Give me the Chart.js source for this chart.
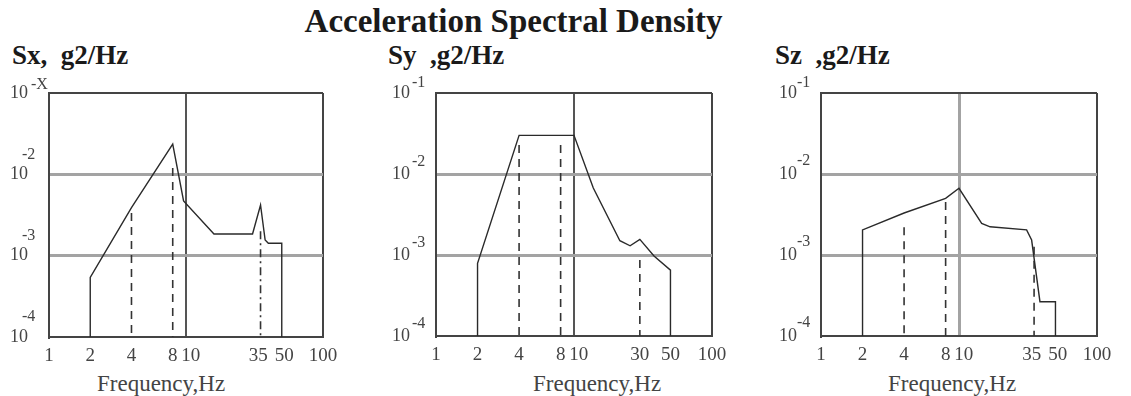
<!DOCTYPE html>
<html>
<head>
<meta charset="utf-8">
<script src="https://cdn.jsdelivr.net/npm/chart.js@4.4.0/dist/chart.umd.min.js"></script>
<style>
    body { margin: 0; background: #fff; width: 1131px; height: 396px; position: relative; overflow: hidden; font-family: 'Liberation Serif', serif; }
    .txt { position: absolute; white-space: pre; line-height: 1; font-weight: bold; color: #1a1a1a; }
    .xt { position: absolute; white-space: pre; line-height: 1; font-size: 23px; color: #444; top: 372px; }
    .box { position: absolute; }
</style>
</head>
<body>
<div class="txt" style="left:0; width:1027px; text-align:center; top:5px; font-size:33px;">Acceleration Spectral Density</div>
<div class="txt" style="left:12px; top:42px; font-size:27px;">Sx,  g2/Hz</div>
<div class="txt" style="left:388px; top:42px; font-size:27px;">Sy  ,g2/Hz</div>
<div class="txt" style="left:775px; top:42px; font-size:27px;">Sz  ,g2/Hz</div>
<div class="xt" style="left:97px;">Frequency,Hz</div>
<div class="xt" style="left:533px;">Frequency,Hz</div>
<div class="xt" style="left:888px;">Frequency,Hz</div>
<div class="box" id="boxX"><canvas id="chartX"></canvas></div>
<div class="box" id="boxY"><canvas id="chartY"></canvas></div>
<div class="box" id="boxZ"><canvas id="chartZ"></canvas></div>
<script>
// Sx panel
const sxFreq = [2, 2, 4, 8, 9.6, 16, 30.6, 35, 37.8, 39.9, 50, 50];
const sxPsd = [1e-4, 5.4e-4, 3.9e-3, 2.36e-2, 4.7e-3, 1.85e-3, 1.85e-3, 4.2e-3, 1.56e-3, 1.42e-3, 1.42e-3, 1e-4];
const sxMarkFreq = [4, 8, 35];
const sxMarkTop = [3.35e-3, 1.2e-2, 2.0e-3];
const sxMarkDash = ['dash', 'dash', 'dashdot'];
const sxXTicks = [1, 2, 4, 8, 10, 35, 50, 100];
const sxXLabels = ['1', '2', '4', '8', '  10', '35 ', ' 50', '100'];
const sxExp = ['-4', '-3', '-2', '-X'];

// Sy panel
const syFreq = [2, 2, 4, 10, 13.8, 21.5, 25.5, 30, 38, 50, 50];
const syPsd = [1e-4, 7.9e-4, 3.0e-2, 3.0e-2, 6.7e-3, 1.5e-3, 1.3e-3, 1.56e-3, 9.7e-4, 6.5e-4, 1e-4];
const syMarkFreq = [4, 8, 30];
const syMarkTop = [2.28e-2, 2.28e-2, 8.7e-4];
const syMarkDash = ['dash', 'dash', 'dash'];
const syXTicks = [1, 2, 4, 8, 10, 30, 50, 100];
const syXLabels = ['1', '2', '4', '8', '  10', '30', '50', '100'];
const syExp = ['-4', '-3', '-2', '-1'];

// Sz panel
const szFreq = [2, 2, 4, 8, 10, 14.6, 16.8, 30.9, 33.6, 38.6, 50, 50];
const szPsd = [1e-4, 2.04e-3, 3.3e-3, 5.0e-3, 6.67e-3, 2.46e-3, 2.23e-3, 2.04e-3, 1.53e-3, 2.65e-4, 2.65e-4, 1e-4];
const szMarkFreq = [4, 8, 35];
const szMarkTop = [2.2e-3, 4.5e-3, 1.26e-3];
const szMarkDash = ['dash', 'dash', 'dash'];
const szXTicks = [1, 2, 4, 8, 10, 35, 50, 100];
const szXLabels = ['1', '2', '4', '8', '  10', '35 ', ' 50', '100'];
const szExp = ['-4', '-3', '-2', '-1'];

const yTicks = [1e-4, 1e-3, 1e-2, 1e-1];

// y tick padding adds to the top padding in Chart.js, so keep PAD_T above it
const Y_W = 48, X_H = 40, PAD_T = 42, PAD_R = 30;

Chart.defaults.font.family = "'Liberation Serif', serif";
Chart.defaults.color = '#444';

// draws the raised exponent next to each "10" on the y axis
const exponentPlugin = {
    id: 'exponents',
    afterDraw(chart, args, opts) {
        const y = chart.scales.y;
        const c = chart.ctx;
        c.save();
        c.font = "16px 'Liberation Serif'";
        c.fillStyle = '#444';
        c.textAlign = 'left';
        c.textBaseline = 'middle';
        y.ticks.forEach((t, i) => {
            const py = y.getPixelForValue(t.value);
            const top = i === y.ticks.length - 1;
            const raise = top ? opts.topRaise : opts.raise;
            const gap = top ? opts.topGap : opts.gap;
            c.fillText(opts.labels[i], chart.chartArea.left - gap, py - raise);
        });
        c.restore();
    }
};

function makePanel(p) {
    const w = Y_W + (p.right - p.left) + PAD_R;
    const h = PAD_T + (p.bottom - p.top) + X_H;
    const box = document.getElementById(p.box);
    box.style.left = (p.left - Y_W) + 'px';
    box.style.top = (p.top - PAD_T) + 'px';
    const canvas = document.getElementById(p.canvas);
    canvas.width = w;
    canvas.height = h;

    const datasets = [{
        data: p.freq.map((f, i) => ({ x: f, y: p.psd[i] })),
        borderColor: '#2a2a2a',
        borderWidth: 1.4,
        pointRadius: 0,
        tension: 0
    }];
    p.markFreq.forEach((f, i) => {
        datasets.push({
            data: [{ x: f, y: p.markTop[i] }, { x: f, y: 1e-4 }],
            borderColor: '#333',
            borderWidth: 1.6,
            borderDash: p.markDash[i] === 'dashdot' ? [8, 4, 2, 4] : [8, 6],
            pointRadius: 0
        });
    });

    return new Chart(canvas.getContext('2d'), {
        type: 'line',
        data: { datasets },
        plugins: [exponentPlugin],
        options: {
            responsive: false,
            animation: false,
            layout: { padding: { top: PAD_T, right: PAD_R, left: 0, bottom: 0 } },
            plugins: {
                legend: { display: false },
                tooltip: { enabled: false },
                exponents: { labels: p.exps, gap: p.expGap, topGap: p.topGap, raise: p.raise, topRaise: p.topRaise }
            },
            scales: {
                x: {
                    type: 'logarithmic',
                    min: 1,
                    max: 100,
                    afterBuildTicks: s => { s.ticks = p.xTicks.map(v => ({ value: v })); },
                    afterFit: s => { s.height = X_H; },
                    ticks: {
                        autoSkip: false,
                        maxRotation: 0,
                        padding: 8,
                        font: { size: 19 },
                        color: '#444',
                        callback: (v, i) => p.xLabels[i]
                    },
                    grid: {
                        drawTicks: false,
                        color: c => c.tick.value === 10 ? p.v10Color : (c.tick.value === 100 ? '#444' : 'rgba(0,0,0,0)'),
                        lineWidth: c => c.tick.value === 10 ? p.v10Width : 2
                    },
                    border: { color: '#444', width: 2 }
                },
                y: {
                    type: 'logarithmic',
                    min: 1e-4,
                    max: 1e-1,
                    afterBuildTicks: s => { s.ticks = yTicks.map(v => ({ value: v })); },
                    afterFit: s => { s.width = Y_W; },
                    ticks: {
                        padding: p.tickPad,
                        font: { size: 18 },
                        color: '#444',
                        callback: () => '10'
                    },
                    grid: {
                        drawTicks: false,
                        color: c => c.tick.value === 1e-1 ? '#444' : (c.tick.value === 1e-4 ? 'rgba(0,0,0,0)' : '#a3a3a3'),
                        lineWidth: c => c.tick.value === 1e-1 ? 2 : 3
                    },
                    border: { color: '#444', width: 2 }
                }
            }
        }
    });
}

makePanel({ box: 'boxX', canvas: 'chartX', left: 49, top: 93, right: 323, bottom: 337,
    freq: sxFreq, psd: sxPsd, markFreq: sxMarkFreq, markTop: sxMarkTop, markDash: sxMarkDash,
    xTicks: sxXTicks, xLabels: sxXLabels, exps: sxExp, tickPad: 21, expGap: 27, topGap: 18, raise: 20, topRaise: 8,
    v10Color: '#555', v10Width: 2 });
makePanel({ box: 'boxY', canvas: 'chartY', left: 436, top: 93, right: 712, bottom: 336,
    freq: syFreq, psd: syPsd, markFreq: syMarkFreq, markTop: syMarkTop, markDash: syMarkDash,
    xTicks: syXTicks, xLabels: syXLabels, exps: syExp, tickPad: 26, expGap: 24, topGap: 24, raise: 12, topRaise: 10,
    v10Color: '#555', v10Width: 2 });
makePanel({ box: 'boxZ', canvas: 'chartZ', left: 821, top: 93, right: 1097, bottom: 336,
    freq: szFreq, psd: szPsd, markFreq: szMarkFreq, markTop: szMarkTop, markDash: szMarkDash,
    xTicks: szXTicks, xLabels: szXLabels, exps: szExp, tickPad: 24, expGap: 24, topGap: 24, raise: 13, topRaise: 10,
    v10Color: '#a3a3a3', v10Width: 3 });
</script>
</body>
</html>
